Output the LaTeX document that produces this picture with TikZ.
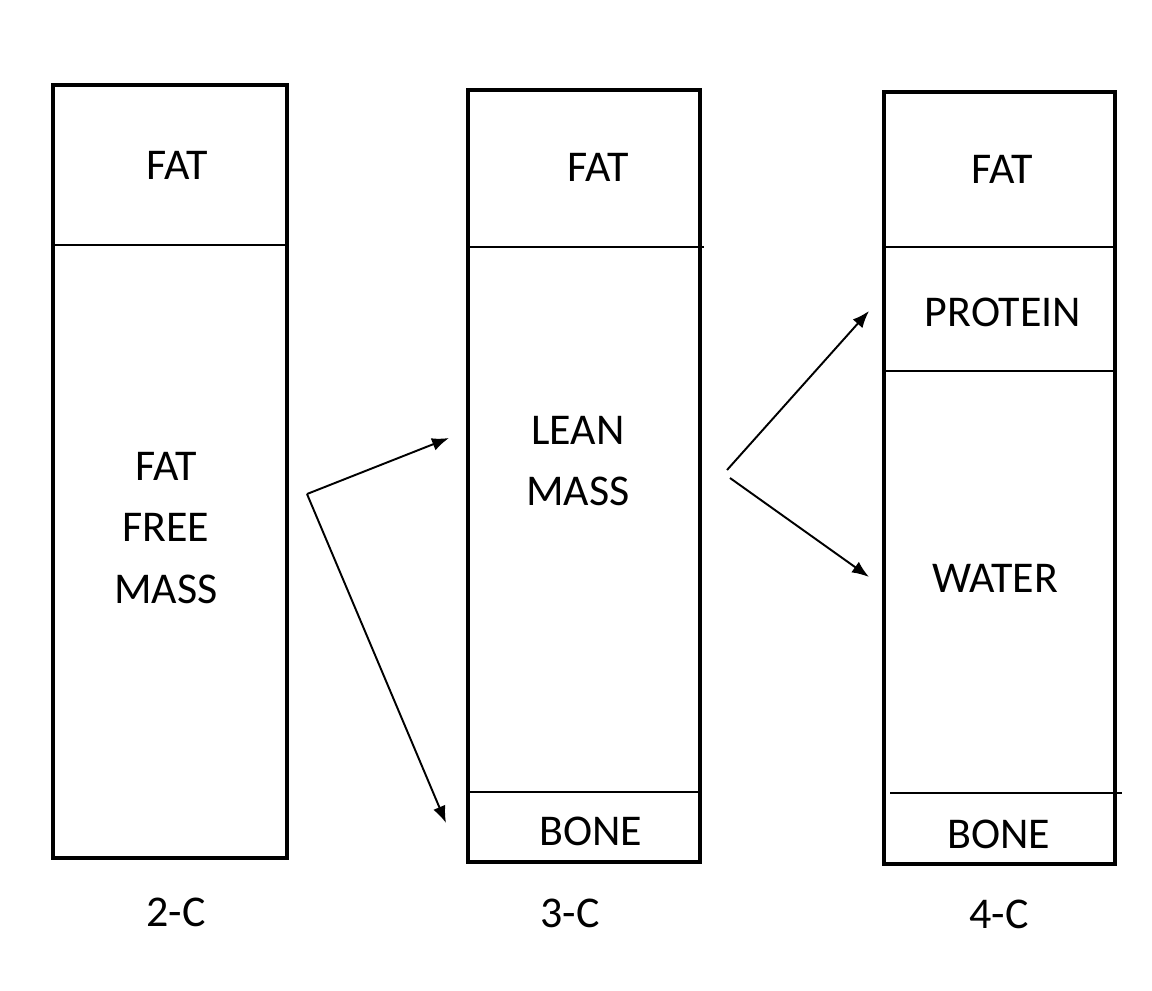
\documentclass[tikz,border=0pt]{standalone}
\usepackage{fontspec}
\setmainfont{Carlito}
\usetikzlibrary{positioning,arrows.meta}

\begin{document}
\begin{tikzpicture}[x=0.02cm, y=-0.02cm,
    column/.style={draw, line width=2.3pt},
    divider/.style={draw, line width=0.8pt},
    part/.style={font=\fontsize{25}{35}\selectfont, align=center, inner sep=0pt},
    link/.style={-{Latex[length=0.34cm, width=0.26cm]}, line width=1.1pt}]
    \useasboundingbox (0,0) rectangle (1152,990);

    % 2-C
    \draw[column] (53,85) rectangle (287,858);
    \draw[divider] (53,245) -- (286,245);
    \node[part] (fat2) at (177,165) {FAT};
    \node[part] (ffm) at (166,528) {FAT\\FREE\\MASS};
    \node[part] (lbl2) at (176,912) {2-C};

    % 3-C
    \draw[column] (468,90) rectangle (700,862);
    \draw[divider] (468,247) -- (704,247);
    \draw[divider] (470,792) -- (698,792);
    \node[part] (fat3) at (598,167) {FAT};
    \node[part] (lean) at (578,461) {LEAN\\MASS};
    \node[part] (bone3) at (591,831) {BONE};
    \node[part] (lbl3) at (570,913) {3-C};

    % 4-C
    \draw[column] (884,92) rectangle (1115,864);
    \draw[divider] (884,247) -- (1115,247);
    \draw[divider] (884,371) -- (1113,371);
    \draw[divider] (890,793) -- (1122,793);
    \node[part] (fat4) at (1002,169) {FAT};
    \node[part] (prot) at (1003,312) {PROTEIN};
    \node[part] (water) at (995,578) {WATER};
    \node[part] (bone4) at (999,834) {BONE};
    \node[part] (lbl4) at (999,914) {4-C};

    % arrows
    \coordinate (split1) at (307,494);
    \coordinate (toLean) at (449,438);
    \coordinate (toBone) at (446,823);
    \coordinate (split2a) at (727,470);
    \coordinate (split2b) at (730,478);
    \coordinate (toProt) at (869,311);
    \coordinate (toWater) at (869,577);
    \draw[link] (split1) -- (toLean);
    \draw[link] (split1) -- (toBone);
    \draw[link] (split2a) -- (toProt);
    \draw[link] (split2b) -- (toWater);
\end{tikzpicture}
\end{document}
